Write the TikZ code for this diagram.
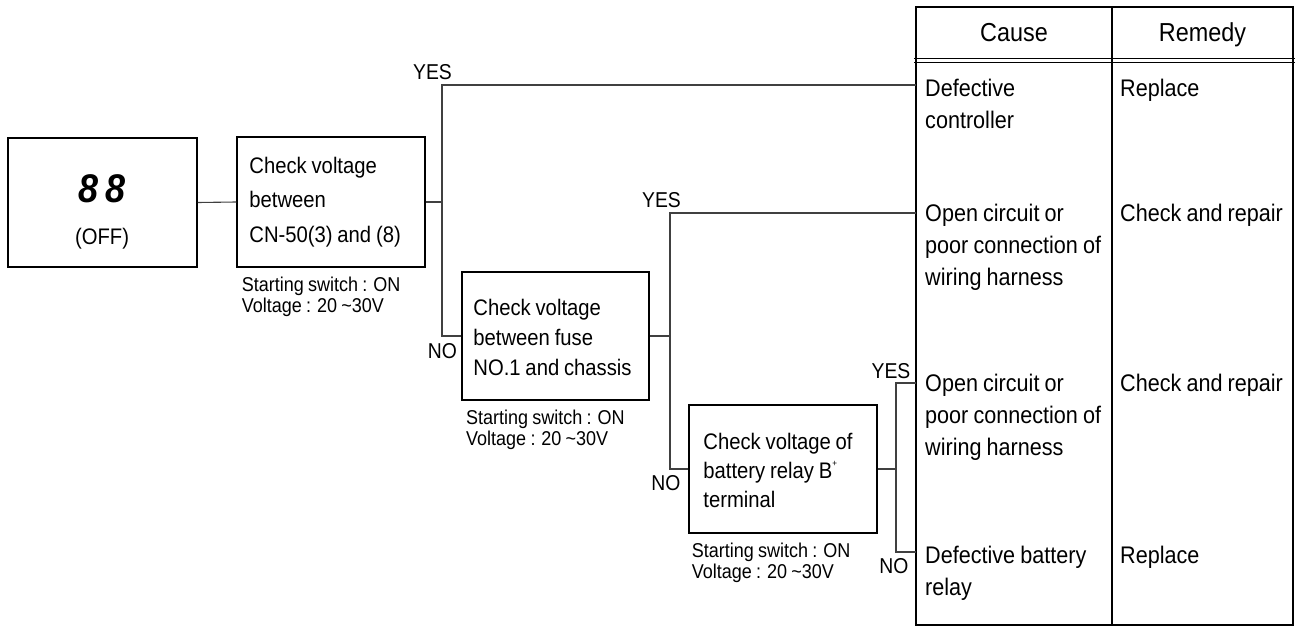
\documentclass[tikz,border=0pt]{standalone}
\usepackage{fontspec}
\setmainfont[FakeStretch=0.9, WordSpace=0.85]{Liberation Sans}
\begin{document}
\begin{tikzpicture}[x=1pt,y=-1pt,
  box/.style={draw=black, line width=1.5pt, rectangle, inner sep=0pt},
  btext/.style={inner sep=0pt, anchor=west, align=left},
  conn/.style={line width=1.1pt, draw=black!75},
  lbl/.style={inner sep=0pt, anchor=base, font=\fontsize{21.5}{21.5}\selectfont},
  note/.style={inner sep=0pt, anchor=base west, align=flush left, text width=200pt, font=\fontsize{20}{20.5}\selectfont},
  cell/.style={inner sep=0pt, anchor=base west, align=flush left, text width=185pt, font=\fontsize{24}{31.7}\selectfont},
  head/.style={inner sep=0pt, anchor=base, font=\fontsize{26}{26}\selectfont},
  tbl/.style={line width=1.5pt, draw=black}]
\useasboundingbox (0,0) rectangle (1301,626);

% table
\draw[tbl] (916,7) rectangle (1293,625);
\draw[tbl] (1112,7) -- (1112,625);
\draw[line width=1pt] (914,59) -- (1295,59);
\draw[line width=1pt] (914,63) -- (1295,63);
\node[head] (hc) at (1014,41.7) {Cause};
\node[head] (hr) at (1202.5,41.7) {Remedy};

\node[cell] (c1) at (925,96.7) {Defective\\controller};
\node[cell] (c2) at (925,221.7) {Open circuit or\\poor connection of\\wiring harness};
\node[cell] (c3) at (925,391.7) {Open circuit or\\poor connection of\\wiring harness};
\node[cell] (c4) at (925,563.3) {Defective battery\\relay};
\node[cell] (r1) at (1120,96.7) {Replace};
\node[cell] (r2) at (1120,221.7) {Check and repair};
\node[cell] (r3) at (1120,391.7) {Check and repair};
\node[cell] (r4) at (1120,563.3) {Replace};

% boxes
\node[box, minimum width=189pt, minimum height=129pt] (b1) at (102.5,202.5) {};
\node[inner sep=0pt, font=\fontsize{40}{40}\selectfont\bfseries\itshape] (dig) at (102,189) {8\hspace{7pt}8};
\node[inner sep=0pt, anchor=base, font=\fontsize{22.5}{22.5}\selectfont] (off) at (102,244) {(OFF)};

\node[box, minimum width=188pt, minimum height=130pt] (b2) at (331,202) {};
\node[btext, font=\fontsize{22.5}{34.5}\selectfont] (b2t) at ([xshift=13pt]b2.west) {Check voltage\\between\\CN-50(3) and (8)};
\node[box, minimum width=187pt, minimum height=128pt] (b3) at (555.5,336) {};
\node[btext, font=\fontsize{22.5}{29.7}\selectfont] (b3t) at ([xshift=12pt,yshift=-1.5pt]b3.west) {Check voltage\\between fuse\\NO.1 and chassis};
\node[box, minimum width=188pt, minimum height=128pt] (b4) at (783,469) {};
\node[btext, font=\fontsize{22.5}{29}\selectfont] (b4t) at ([xshift=15pt,yshift=-1.5pt]b4.west) {Check voltage of\\battery relay B\raisebox{0.55em}{\fontsize{9}{9}\selectfont +}\\terminal};

% notes
\node[note] (n2) at (241.7,291.7) {Starting switch : ON\\Voltage : 20 \textasciitilde30V};
\node[note] (n3) at (466,424.7) {Starting switch : ON\\Voltage : 20 \textasciitilde30V};
\node[note] (n4) at (691.7,557.5) {Starting switch : ON\\Voltage : 20 \textasciitilde30V};

% connectors
\coordinate (j1) at (442,202);
\coordinate (y1) at (442,85);
\coordinate (t1) at (916,85);
\coordinate (j2) at (670,336);
\coordinate (y2) at (670,213);
\coordinate (t2) at (916,213);
\coordinate (j3) at (896,469);
\coordinate (y3) at (896,383);
\coordinate (n3c) at (896,552);
\coordinate (t3) at (916,383);
\coordinate (t4) at (916,552);

\draw[conn] (b1.east) -- (b2.west);
\draw[conn] (b2.east) -- (j1);
\draw[conn] (b3.west) -| (y1) -- (t1);
\draw[conn] (b3.east) -- (j2);
\draw[conn] (b4.west) -| (y2) -- (t2);
\draw[conn] (b4.east) -- (j3);
\draw[conn] (t3) -- (y3) -- (n3c) -- (t4);

% labels
\node[lbl] (yes1) at (432.5,80) {YES};
\node[lbl] (no1) at (442.5,358) {NO};
\node[lbl] (yes2) at (661.5,207) {YES};
\node[lbl] (no2) at (666,490) {NO};
\node[lbl] (yes3) at (891,378) {YES};
\node[lbl] (no3) at (894,573) {NO};
\end{tikzpicture}
\end{document}
